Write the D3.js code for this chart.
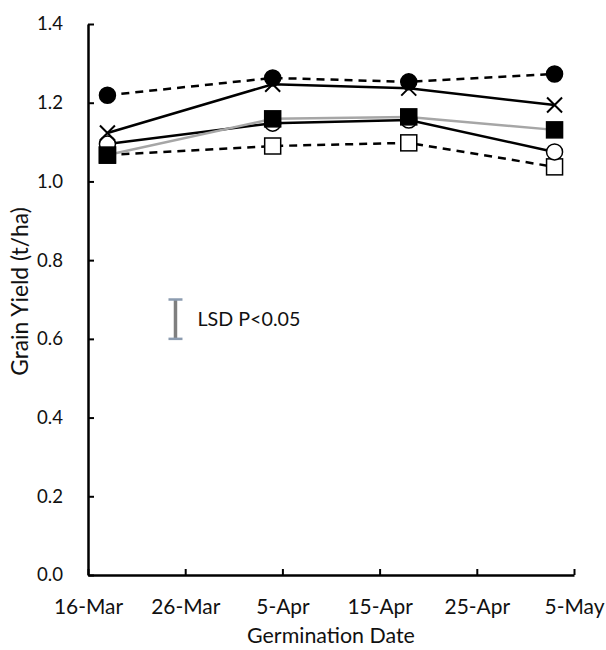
<!DOCTYPE html>
<html>
<head>
<meta charset="utf-8">
<script src="https://cdn.jsdelivr.net/npm/d3@7"></script>
<style>
  body { margin: 0; background: #fff; }
  text { font-family: Lato, "Open Sans", sans-serif; }
</style>
</head>
<body>
<div id="chart"></div>
<script>
// sampling dates (germination) and tick dates
var sampleDates = ["2013-03-18", "2013-04-04", "2013-04-18", "2013-05-03"];
var tickDates = ["2013-03-16", "2013-03-26", "2013-04-05", "2013-04-15", "2013-04-25", "2013-05-05"];
var yTicks = [0, 0.2, 0.4, 0.6, 0.8, 1.0, 1.2, 1.4];

// grain yield (t/ha) for each treatment
var openSquare   = [1.067, 1.090, 1.098, 1.037];
var openCircle   = [1.095, 1.148, 1.156, 1.075];
var filledSquare = [1.067, 1.159, 1.164, 1.131];
var crossSeries  = [1.123, 1.247, 1.237, 1.194];
var filledCircle = [1.219, 1.263, 1.253, 1.273];

var lsd = [0.6, 0.7];
var lsdDate = "2013-03-25";

// scale a text selection's font so that its first node is about `target` px wide
function fitFont(sel, target) {
    sel.attr("font-size", 20);
    var len = sel.node().getComputedTextLength();
    sel.attr("font-size", (20 * target / len).toFixed(1));
}

function main() {
    var width = 606, height = 650;
    var margin = {top: 24, right: 32, bottom: 75, left: 88};
    var w = width - margin.left - margin.right,
        h = height - margin.top - margin.bottom;

    var parseDate = d3.timeParse("%Y-%m-%d");
    var ticks = tickDates.map(parseDate);
    var dates = sampleDates.map(parseDate);

    var xScale = d3.scaleTime().domain([ticks[0], ticks[ticks.length - 1]]).range([0, w]);
    var yScale = d3.scaleLinear().domain([0, 1.4]).range([h, 0]);

    var svg = d3.select("#chart").append("svg")
        .attr("width", width)
        .attr("height", height)
        .append("g")
        .attr("transform", "translate(" + margin.left + "," + margin.top + ")");

    // axes
    var xAxis = svg.append("g")
        .attr("transform", "translate(0," + h + ")")
        .call(d3.axisBottom(xScale).tickValues(ticks).tickFormat(d3.timeFormat("%-d-%b")).tickSizeInner(-6).tickSizeOuter(0).tickPadding(24));
    var yAxis = svg.append("g")
        .call(d3.axisLeft(yScale).tickValues(yTicks).tickFormat(d3.format(".1f")).tickSizeInner(-6).tickSizeOuter(0).tickPadding(25));

    [xAxis, yAxis].forEach(function(a) {
        a.attr("font-family", null);
        a.select(".domain").attr("stroke", "#000").attr("stroke-width", 2.5);
        a.selectAll(".tick line").attr("stroke", "#000").attr("stroke-width", 2);
        a.selectAll(".tick text").attr("fill", "#111");
    });
    fitFont(xAxis.selectAll(".tick text"), 69);
    fitFont(yAxis.selectAll(".tick text"), 26);

    var line = d3.line()
        .x(function(d) { return xScale(d.date); })
        .y(function(d) { return yScale(d.v); });

    function pts(vals) {
        return vals.map(function(v, i) { return {date: dates[i], v: v}; });
    }

    var series = [
        {vals: openSquare,   stroke: "#000",  dash: "8,6", marker: "square", fill: "#fff"},
        {vals: openCircle,   stroke: "#000",  dash: null,  marker: "circle", fill: "#fff"},
        {vals: filledSquare, stroke: "#a6a6a6", dash: null, marker: "square", fill: "#000"},
        {vals: crossSeries,  stroke: "#000",  dash: null,  marker: "cross",  fill: "none"},
        {vals: filledCircle, stroke: "#000",  dash: "8,6", marker: "circle", fill: "#000"}
    ];

    series.forEach(function(s) {
        svg.append("path")
            .datum(pts(s.vals))
            .attr("fill", "none")
            .attr("stroke", s.stroke)
            .attr("stroke-width", 2.5)
            .attr("stroke-dasharray", s.dash)
            .attr("d", line);
    });

    series.forEach(function(s) {
        var g = svg.append("g");
        var p = pts(s.vals);
        if (s.marker === "circle") {
            g.selectAll("circle").data(p).enter().append("circle")
                .attr("cx", function(d) { return xScale(d.date); })
                .attr("cy", function(d) { return yScale(d.v); })
                .attr("r", 8)
                .attr("fill", s.fill)
                .attr("stroke", "#000")
                .attr("stroke-width", 1.5);
        } else if (s.marker === "square") {
            g.selectAll("rect").data(p).enter().append("rect")
                .attr("x", function(d) { return xScale(d.date) - 8; })
                .attr("y", function(d) { return yScale(d.v) - 8; })
                .attr("width", 16)
                .attr("height", 16)
                .attr("fill", s.fill)
                .attr("stroke", "#000")
                .attr("stroke-width", 1.5);
        } else {
            g.selectAll("path").data(p).enter().append("path")
                .attr("transform", function(d) { return "translate(" + xScale(d.date) + "," + yScale(d.v) + ")"; })
                .attr("d", "M-7.5,-7.5L7.5,7.5M-7.5,7.5L7.5,-7.5")
                .attr("stroke", "#000")
                .attr("stroke-width", 2);
        }
    });

    // LSD bar
    var lx = xScale(parseDate(lsdDate));
    svg.append("line")
        .attr("x1", lx).attr("x2", lx)
        .attr("y1", yScale(lsd[0])).attr("y2", yScale(lsd[1]))
        .attr("stroke", "#7f7f7f").attr("stroke-width", 3.5);
    lsd.forEach(function(v) {
        svg.append("line")
            .attr("x1", lx - 7).attr("x2", lx + 7)
            .attr("y1", yScale(v)).attr("y2", yScale(v))
            .attr("stroke", "#8c9cb0").attr("stroke-width", 2.5);
    });
    var lsdText = svg.append("text")
        .attr("x", lx + 22)
        .attr("y", yScale((lsd[0] + lsd[1]) / 2))
        .attr("dy", "0.35em")
        .attr("fill", "#111")
        .text("LSD P<0.05");
    fitFont(lsdText, 103);

    // axis labels
    var xTitle = svg.append("text")
        .attr("text-anchor", "middle")
        .attr("x", w / 2)
        .attr("y", h + 68)
        .attr("fill", "#111")
        .text("Germination Date");
    fitFont(xTitle, 168);

    var yTitle = svg.append("text")
        .attr("text-anchor", "middle")
        .attr("transform", "rotate(-90)")
        .attr("x", -h / 2 + 8)
        .attr("y", -60)
        .attr("fill", "#111")
        .text("Grain Yield (t/ha)");
    fitFont(yTitle, 169);
}
main();
</script>
</body>
</html>
